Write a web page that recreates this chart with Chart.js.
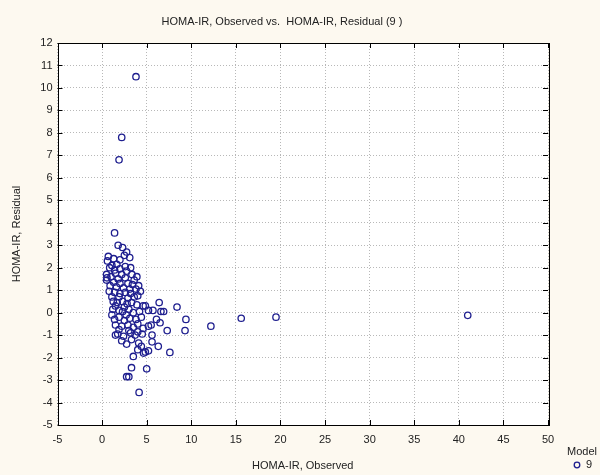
<!DOCTYPE html>
<html>
<head>
<meta charset="utf-8">
<script src="https://cdn.jsdelivr.net/npm/chart.js@4.4.1/dist/chart.umd.min.js"></script>
<style>
  html, body { margin: 0; padding: 0; background: #fdf9f0; }
  #wrap { width: 600px; height: 475px; position: relative; }
</style>
</head>
<body>
<div id="wrap"><canvas id="chart" width="600" height="475"></canvas></div>
<script>
/* ---------- data ---------- */
const TITLE   = 'HOMA-IR, Observed vs.  HOMA-IR, Residual (9 )';
const X_TITLE = 'HOMA-IR, Observed';
const Y_TITLE = 'HOMA-IR, Residual';
const LEGEND_TITLE = 'Model';
const SERIES_NAME  = '9';

const X_TICKS = [-5, 0, 5, 10, 15, 20, 25, 30, 35, 40, 45, 50];
const Y_TICKS = [-5, -4, -3, -2, -1, 0, 1, 2, 3, 4, 5, 6, 7, 8, 9, 10, 11, 12];

// observed HOMA-IR (x)
const observed = [
  3.8, 2.2, 1.9,
  1.4, 1.8, 2.3, 2.75, 2.5,
  0.7, 3.1, 1.3, 2.0, 0.6,
  1.1, 1.65, 2.6, 0.85, 2.0, 3.2, 1.4, 2.75,
  0.5, 0.55, 1.0, 1.5, 2.2, 3.35, 3.9, 1.8, 2.6, 3.6, 0.5,
  1.3, 2.0, 2.9, 3.4, 0.9, 4.1, 1.6, 2.4, 3.1, 3.8,
  0.8, 1.4, 2.0, 2.6, 3.2, 4.3, 1.1, 1.9, 2.9, 3.6, 4.0,
  1.25, 1.7, 2.3, 2.8, 3.3, 3.9, 4.6, 4.85, 6.4, 8.4, 1.5, 2.5,
  1.2, 1.9, 2.3, 3.0, 3.5, 4.2, 5.2, 5.7, 6.6, 6.9,
  1.4, 1.9, 2.5, 3.1, 3.8, 4.4, 6.1, 6.5, 9.4, 15.6, 19.5, 41.0, 1.1, 2.7,
  1.5, 2.2, 2.9, 3.5, 4.0, 4.6, 5.2, 5.5, 7.3, 9.3, 12.2, 1.9, 3.0,
  1.5, 1.75, 2.4, 3.2, 3.7, 4.5, 5.6, 4.0,
  2.75, 4.1, 4.4, 5.6, 6.3, 3.3, 2.2,
  4.65, 4.85, 5.2, 7.6, 3.5, 4.0,
  3.3, 5.0,
  2.75, 3.0,
  4.15
];

// residual HOMA-IR (y)
const residual = [
  10.5, 7.8, 6.8,
  3.55, 3.0, 2.9, 2.7, 2.55,
  2.5, 2.45, 2.4, 2.35, 2.3,
  2.1, 2.15, 2.05, 2.0, 1.95, 2.0, 1.9, 1.85,
  1.7, 1.55, 1.6, 1.75, 1.7, 1.7, 1.6, 1.5, 1.55, 1.45, 1.45,
  1.35, 1.3, 1.3, 1.25, 1.2, 1.2, 1.15, 1.1, 1.05, 1.05,
  0.95, 0.9, 0.85, 0.9, 0.85, 0.95, 0.7, 0.7, 0.65, 0.7, 0.75,
  0.5, 0.45, 0.5, 0.4, 0.45, 0.35, 0.3, 0.3, 0.45, 0.25, 0.3, 0.25,
  0.15, 0.1, 0.05, 0.15, 0.0, 0.05, 0.1, 0.1, 0.05, 0.05,
  -0.3, -0.2, -0.35, -0.25, -0.3, -0.2, -0.3, -0.45, -0.3, -0.25, -0.2, -0.12, -0.1, -0.1,
  -0.55, -0.6, -0.55, -0.65, -0.5, -0.7, -0.6, -0.55, -0.8, -0.8, -0.6, -0.75, -0.8,
  -1.0, -0.95, -1.05, -0.9, -1.0, -0.95, -1.0, -0.85,
  -1.4, -1.35, -1.5, -1.3, -1.5, -1.2, -1.25,
  -1.8, -1.75, -1.7, -1.77, -1.95, -1.65,
  -2.45, -2.5,
  -2.85, -2.85,
  -3.55
];

/* ---------- styles ---------- */
const FONT      = "'Liberation Sans', Arial, sans-serif";
const INK       = '#222222';
const POINT_CLR = '#1f1f8f';
const PAPER     = '#fdf9f0';

/* ---------- plugin: paper, frame, inner ticks, title, legend ---------- */
const statFrame = {
  id: 'statFrame',
  beforeDraw(chart) {
    const { ctx, chartArea: a } = chart;
    ctx.save();
    ctx.fillStyle = PAPER;
    ctx.fillRect(0, 0, chart.width, chart.height);
    ctx.fillStyle = '#ffffff';
    ctx.fillRect(a.left, a.top, a.right - a.left, a.bottom - a.top);
    ctx.restore();
  },
  afterDatasetsDraw(chart) {
    const { ctx, chartArea: a, scales } = chart;
    ctx.save();
    ctx.strokeStyle = '#000000';
    ctx.lineWidth = 1;
    ctx.strokeRect(Math.round(a.left) + 0.5, Math.round(a.top) + 0.5,
                   Math.round(a.right - a.left), Math.round(a.bottom - a.top));

    // inward tick marks on all four sides
    ctx.beginPath();
    X_TICKS.forEach(v => {
      const px = Math.round(scales.x.getPixelForValue(v)) + 0.5;
      ctx.moveTo(px, a.bottom); ctx.lineTo(px, a.bottom - 5);
      ctx.moveTo(px, a.top);    ctx.lineTo(px, a.top + 5);
    });
    Y_TICKS.forEach(v => {
      const py = Math.round(scales.y.getPixelForValue(v)) + 0.5;
      ctx.moveTo(a.left, py);  ctx.lineTo(a.left + 5, py);
      ctx.moveTo(a.right, py); ctx.lineTo(a.right - 5, py);
    });
    ctx.stroke();

    // title
    ctx.fillStyle = INK;
    ctx.font = '11px ' + FONT;
    ctx.textAlign = 'center';
    ctx.textBaseline = 'middle';
    ctx.fillText(TITLE, 282, 22);

    // legend
    ctx.textAlign = 'left';
    ctx.fillText(LEGEND_TITLE, 567, 452);
    ctx.fillText(SERIES_NAME, 586, 465);
    ctx.strokeStyle = POINT_CLR;
    ctx.lineWidth = 1.3;
    ctx.beginPath();
    ctx.arc(577, 465, 2.8, 0, Math.PI * 2);
    ctx.stroke();
    ctx.restore();
  }
};

const points = observed.map((x, i) => ({ x, y: residual[i] }));

new Chart(document.getElementById('chart'), {
  type: 'scatter',
  data: {
    datasets: [{
      label: SERIES_NAME,
      data: points,
      pointStyle: 'circle',
      pointRadius: 3.2,
      pointBorderWidth: 1.3,
      pointBorderColor: POINT_CLR,
      pointBackgroundColor: 'rgba(0,0,0,0)',
    }],
  },
  options: {
    responsive: false,
    animation: false,
    layout: { padding: { top: 43, right: 52, left: 0, bottom: 0 } },
    plugins: {
      legend:  { display: false },
      tooltip: { enabled: false },
    },
    scales: {
      x: {
        type: 'linear',
        min: -5, max: 50,
        afterFit: s => { s.height = 50; },
        afterBuildTicks: s => { s.ticks = X_TICKS.map(v => ({ value: v })); },
        grid:   { color: '#b8b8b8', drawTicks: false, tickBorderDash: [1, 2] },
        border: { display: false, dash: [1, 2] },
        ticks:  { color: INK, font: { family: FONT, size: 11 }, padding: 8, maxRotation: 0 },
        title:  { display: true, text: X_TITLE, color: INK,
                  font: { family: FONT, size: 11 }, padding: { top: 0, bottom: 2 } },
      },
      y: {
        type: 'linear',
        min: -5, max: 12,
        afterFit: s => { s.width = 57.5; },
        afterBuildTicks: s => { s.ticks = Y_TICKS.map(v => ({ value: v })); },
        grid:   { color: '#b8b8b8', drawTicks: false },
        border: { display: false, dash: [1, 2] },
        ticks:  { color: INK, font: { family: FONT, size: 11 }, padding: 5 },
        title:  { display: true, text: Y_TITLE, color: INK,
                  font: { family: FONT, size: 11 }, padding: { top: 10, bottom: 0 } },
      },
    },
  },
  plugins: [statFrame],
});
</script>
</body>
</html>
